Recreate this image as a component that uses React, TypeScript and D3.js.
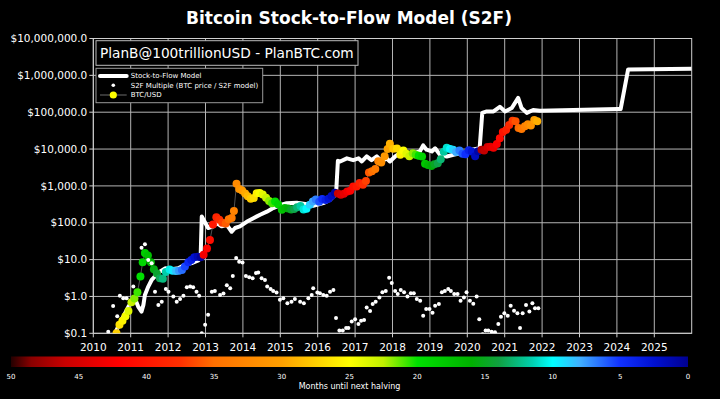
import React from 'react'
import * as d3 from 'd3'

// S2F model price (white line), [year, USD]
const s2fModel: [number, number][] = [
  [2010.50, 0.06], [2010.58, 0.1], [2010.71, 0.19], [2010.83, 0.32], [2010.94, 0.53], [2011.03, 0.72],
  [2011.11, 0.89], [2011.20, 0.53], [2011.29, 0.39], [2011.34, 0.59], [2011.38, 1.1], [2011.47, 1.85],
  [2011.56, 2.8], [2011.65, 3.5], [2011.78, 4.7], [2011.92, 5.8], [2012.10, 5.5], [2012.27, 5.8],
  [2012.45, 7.2], [2012.63, 8.0], [2012.81, 9.5], [2012.87, 12], [2012.90, 148], [2013.07, 72],
  [2013.21, 80], [2013.30, 98], [2013.43, 80], [2013.57, 88], [2013.70, 57], [2013.79, 72],
  [2013.92, 80], [2014.10, 106], [2014.28, 133], [2014.46, 165], [2014.64, 200], [2014.81, 250],
  [2014.99, 300], [2015.17, 340], [2015.44, 350], [2015.71, 320], [2015.88, 290], [2016.15, 340],
  [2016.33, 420], [2016.42, 520], [2016.49, 580], [2016.54, 4800], [2016.60, 4600], [2016.78, 5600],
  [2016.95, 5000], [2017.09, 5600], [2017.18, 4600], [2017.31, 6300], [2017.44, 5000], [2017.58, 6300],
  [2017.71, 4600], [2017.84, 5600], [2017.93, 4600], [2018.07, 6300], [2018.20, 7700], [2018.38, 7000],
  [2018.56, 7700], [2018.73, 8600], [2018.82, 12600], [2018.91, 9600], [2019.05, 8600], [2019.14, 10500],
  [2019.27, 7000], [2019.45, 6300], [2019.63, 7000], [2019.80, 7700], [2019.98, 7700], [2020.12, 9600],
  [2020.33, 10500], [2020.40, 96000], [2020.52, 105000], [2020.70, 105000], [2020.87, 140000],
  [2021.01, 105000], [2021.19, 130000], [2021.36, 245000], [2021.45, 130000], [2021.59, 96000],
  [2021.76, 115000], [2021.94, 110000], [2024.02, 122000], [2024.10, 122000], [2024.30, 1450000],
  [2026.0, 1500000],
]

// S2F multiple (BTC price / S2F model), white dots
const s2fMultiple: [number, number][] = [
  [2010.40, 0.11], [2010.53, 0.55], [2010.64, 0.29], [2010.71, 1.05], [2010.80, 0.89], [2010.89, 0.89],
  [2011.07, 1.85], [2011.29, 21], [2011.38, 26], [2011.47, 9.8], [2011.56, 8], [2011.65, 1.35],
  [2011.74, 0.59], [2011.83, 0.72], [2011.94, 1.6], [2012.01, 1.35], [2012.14, 0.99], [2012.23, 0.72],
  [2012.32, 0.85], [2012.41, 1.05], [2012.50, 1.78], [2012.59, 1.85], [2012.67, 1.78], [2012.76, 1.35],
  [2012.83, 1.05], [2012.90, 0.1], [2012.99, 0.17], [2013.07, 0.32], [2013.17, 1.35], [2013.25, 1.4],
  [2013.39, 1.1], [2013.48, 1.2], [2013.57, 2.0], [2013.66, 1.66], [2013.73, 3.6], [2013.82, 11],
  [2013.90, 8.8], [2013.99, 8.3], [2014.08, 3.6], [2014.17, 3.3], [2014.26, 3.1], [2014.35, 4.3],
  [2014.41, 4.5], [2014.50, 3.1], [2014.59, 2.8], [2014.65, 1.85], [2014.74, 1.6], [2014.81, 1.4],
  [2014.90, 1.27], [2014.99, 0.81], [2015.08, 0.89], [2015.19, 0.65], [2015.30, 0.72], [2015.39, 0.85],
  [2015.53, 0.72], [2015.63, 0.65], [2015.75, 0.89], [2015.84, 1.1], [2015.88, 1.66], [2015.99, 1.27],
  [2016.06, 1.22], [2016.15, 1.1], [2016.24, 1.05], [2016.33, 1.35], [2016.42, 1.5], [2016.49, 0.26],
  [2016.58, 0.12], [2016.67, 0.12], [2016.76, 0.14], [2016.82, 0.14], [2016.91, 0.21], [2017.00, 0.24],
  [2017.09, 0.18], [2017.16, 0.22], [2017.24, 0.23], [2017.31, 0.5], [2017.40, 0.4], [2017.47, 0.62],
  [2017.55, 0.72], [2017.65, 0.93], [2017.73, 1.3], [2017.82, 1.4], [2017.91, 3.2], [2017.98, 2.3],
  [2018.07, 1.4], [2018.14, 1.17], [2018.22, 1.5], [2018.31, 1.3], [2018.40, 1.0], [2018.49, 1.22],
  [2018.57, 1.22], [2018.65, 0.85], [2018.74, 0.77], [2018.82, 0.3], [2018.90, 0.46], [2018.99, 0.46],
  [2019.07, 0.36], [2019.14, 0.56], [2019.24, 0.62], [2019.32, 1.3], [2019.40, 1.4], [2019.49, 1.6],
  [2019.56, 1.4], [2019.65, 1.17], [2019.74, 1.17], [2019.82, 0.77], [2019.91, 0.93], [2019.98, 1.3],
  [2020.07, 0.77], [2020.16, 0.63], [2020.25, 1.0], [2020.32, 0.24], [2020.41, 0.094], [2020.49, 0.12],
  [2020.56, 0.12], [2020.65, 0.11], [2020.74, 0.106], [2020.83, 0.18], [2020.90, 0.28], [2020.99, 0.35],
  [2021.08, 0.3], [2021.16, 0.56], [2021.25, 0.41], [2021.34, 0.35], [2021.41, 0.14], [2021.48, 0.35],
  [2021.57, 0.59], [2021.66, 0.39], [2021.74, 0.65], [2021.81, 0.48], [2021.90, 0.48],
]

// BTC/USD monthly price, [year, USD]
const btcUsd: [number, number][] = [
  [2010.62, 0.10], [2010.70, 0.17], [2010.78, 0.22], [2010.86, 0.29], [2010.94, 0.40], [2011.02, 0.70],
  [2011.10, 0.88], [2011.18, 1.3], [2011.26, 3.5], [2011.32, 8.5], [2011.38, 15], [2011.46, 13],
  [2011.54, 8.5], [2011.62, 5.5], [2011.70, 4.2], [2011.78, 3.1], [2011.86, 3.0], [2011.94, 4.6],
  [2012.04, 5.4], [2012.12, 5.0], [2012.21, 4.9], [2012.29, 5.0], [2012.37, 5.2], [2012.45, 6.5],
  [2012.54, 8.5], [2012.62, 9.8], [2012.70, 11.5], [2012.79, 12.0], [2012.87, 11.5], [2012.95, 13.5],
  [2013.04, 20], [2013.12, 34], [2013.20, 90], [2013.29, 140], [2013.37, 120], [2013.45, 100],
  [2013.54, 95], [2013.62, 125], [2013.70, 135], [2013.76, 210], [2013.83, 1140], [2013.90, 820],
  [2013.98, 750], [2014.06, 620], [2014.13, 520], [2014.21, 450], [2014.29, 470], [2014.37, 630],
  [2014.45, 640], [2014.53, 580], [2014.62, 480], [2014.70, 390], [2014.78, 340], [2014.86, 375],
  [2014.94, 320], [2015.04, 225], [2015.12, 250], [2015.21, 245], [2015.29, 230], [2015.37, 235],
  [2015.45, 265], [2015.54, 285], [2015.62, 230], [2015.70, 240], [2015.79, 310], [2015.87, 380],
  [2015.95, 430], [2016.04, 370], [2016.12, 440], [2016.21, 415], [2016.29, 450], [2016.37, 530],
  [2016.46, 650], [2016.54, 620], [2016.62, 575], [2016.70, 610], [2016.79, 700], [2016.87, 740],
  [2016.95, 960], [2017.04, 970], [2017.12, 1190], [2017.21, 1080], [2017.29, 1350], [2017.37, 2300],
  [2017.45, 2500], [2017.54, 2880], [2017.62, 4700], [2017.70, 4340], [2017.79, 6400], [2017.87, 10000],
  [2017.93, 14000], [2018.02, 10200], [2018.12, 10300], [2018.21, 7000], [2018.29, 9200], [2018.37, 7500],
  [2018.45, 6400], [2018.54, 7700], [2018.62, 7000], [2018.70, 6600], [2018.79, 6300], [2018.87, 4000],
  [2018.95, 3700], [2019.04, 3450], [2019.12, 3850], [2019.21, 4100], [2019.29, 5300], [2019.37, 8500],
  [2019.45, 10800], [2019.54, 10000], [2019.62, 9600], [2019.70, 8300], [2019.79, 9200], [2019.87, 7500],
  [2019.95, 7200], [2020.04, 9300], [2020.12, 8600], [2020.21, 6400], [2020.29, 8700], [2020.38, 9500],
  [2020.45, 9100], [2020.54, 11300], [2020.62, 11600], [2020.70, 10800], [2020.79, 13800], [2020.87, 19700],
  [2020.95, 29000], [2021.04, 33000], [2021.12, 45000], [2021.21, 59000], [2021.29, 57000], [2021.37, 37000],
  [2021.45, 35000], [2021.54, 41500], [2021.62, 47000], [2021.70, 43800], [2021.79, 61000], [2021.87, 57000],
]

const halvings = [2012.91, 2016.52, 2020.36, 2024.30]
const years = d3.range(2010, 2026)
const priceTicks = [0.1, 1, 10, 100, 1e3, 1e4, 1e5, 1e6, 1e7]
const monthTicks = [50, 45, 40, 35, 30, 25, 20, 15, 10, 5, 0]

// colour bar stops (months until next halving)
const stopMonths = [50, 48.5, 46, 42, 37.5, 35, 30, 25, 22.5, 20, 16, 14, 11.5, 10, 8, 5, 2.5, 0]
const stopColors = ['#240000', '#8a0000', '#c80000', '#ff0000', '#ff3000', '#ff7000', '#ffa000', '#ffff00',
  '#c0f000', '#00e000', '#00b000', '#10a040', '#00d0b0', '#00ffff', '#40b0ff', '#1030ff', '#0010d0', '#000090']

const FONT = 'DejaVu Sans'

export default function App() {
  const x = d3.scaleLinear().domain([2010, 2026]).range([93.3, 691.7])
  const y = d3.scaleLog().domain([0.1, 1e7]).range([333.3, 38.5])
  const color = d3.scaleLinear<string>().domain(stopMonths).range(stopColors).clamp(true)
  const cb = d3.scaleLinear().domain([50, 0]).range([11, 688])

  const monthsToHalving = (t: number) => {
    const next = halvings.find(h => h > t) ?? halvings[halvings.length - 1]
    return Math.max(0, (next - t) * 12)
  }

  const line = d3.line<[number, number]>().x(d => x(d[0])).y(d => y(d[1]))
  const fmt = d3.format(',.1f')
  const [x0, x1] = x.range()
  const [yb, yt] = y.range()

  return (
    <svg width={720} height={399} style={{position: 'absolute', left: 0, top: 0, background: '#000'}}
         fontFamily={FONT}>
      <defs>
        <clipPath id="plot"><rect x={x0} y={yt} width={x1 - x0} height={yb - yt} /></clipPath>
        <linearGradient id="cbar" x1="0" x2="1" y1="0" y2="0">
          {stopMonths.map((m, i) => (
            <stop key={i} offset={(50 - m) / 50} stopColor={stopColors[i]} />
          ))}
        </linearGradient>
      </defs>
      <rect width={720} height={399} fill="#000" />

      <text x={349} y={23.5} fill="#fff" fontSize={17} fontWeight="bold" textAnchor="middle">
        Bitcoin Stock-to-Flow Model (S2F)
      </text>

      {/* grid */}
      <g stroke="#b4b4b4" strokeWidth={1}>
        {years.map(yr => <line key={yr} x1={x(yr)} x2={x(yr)} y1={yt} y2={yb} />)}
        {priceTicks.map(p => <line key={p} x1={x0} x2={x1} y1={y(p)} y2={y(p)} />)}
      </g>
      <rect x={x0} y={yt} width={x1 - x0} height={yb - yt} fill="none" stroke="#d0d0d0" strokeWidth={1} />

      {/* axes */}
      <g fill="#fff" fontSize={10.5}>
        {priceTicks.map(p => (
          <g key={p}>
            <line x1={x0 - 4} x2={x0} y1={y(p)} y2={y(p)} stroke="#d0d0d0" />
            <text x={x0 - 6} y={y(p)} dy="0.35em" textAnchor="end">${fmt(p)}</text>
          </g>
        ))}
        {years.map(yr => (
          <g key={yr}>
            <line x1={x(yr)} x2={x(yr)} y1={yb} y2={yb + 4} stroke="#d0d0d0" />
            <text x={x(yr)} y={yb + 17.5} textAnchor="middle">{yr}</text>
          </g>
        ))}
      </g>

      <g clipPath="url(#plot)">
        <path d={line(s2fModel) ?? ''} fill="none" stroke="#fff" strokeWidth={4} strokeLinejoin="round" />
        <path d={line(btcUsd) ?? ''} fill="none" stroke="#666" strokeWidth={0.8} />
        {btcUsd.map((d, i) => (
          <circle key={i} cx={x(d[0])} cy={y(d[1])} r={4} fill={color(monthsToHalving(d[0]))} />
        ))}
        {s2fMultiple.map((d, i) => (
          <circle key={i} cx={x(d[0])} cy={y(d[1])} r={2} fill="#fff" />
        ))}
      </g>

      {/* watermark box */}
      <rect x={96} y={40.7} width={262} height={24.6} fill="#000" stroke="#bbb" strokeWidth={1} />
      <text x={100} y={58.3} fill="#fff" fontSize={13.7}>PlanB@100trillionUSD - PlanBTC.com</text>

      {/* legend */}
      <rect x={96} y={68.3} width={166.7} height={34.4} fill="#000" stroke="#999" strokeWidth={1} />
      <g fontSize={7} fill="#fff">
        <line x1={100} x2={126.7} y1={76} y2={76} stroke="#fff" strokeWidth={4} strokeLinecap="round" />
        <text x={130.7} y={76} dy="0.35em">Stock-to-Flow Model</text>
        <circle cx={113.3} cy={85.3} r={1.8} fill="#fff" />
        <text x={130.7} y={85.3} dy="0.35em">S2F Multiple (BTC price / S2F model)</text>
        <line x1={100} x2={126.7} y1={95} y2={95} stroke="#888" strokeWidth={0.8} />
        <circle cx={113.3} cy={95} r={3.6} fill="#ffff00" />
        <text x={130.7} y={95} dy="0.35em">BTC/USD</text>
      </g>

      {/* colour bar */}
      <rect x={cb(50)} y={356.5} width={cb(0) - cb(50)} height={10.5} fill="url(#cbar)" />
      <g fill="#fff" fontSize={7} textAnchor="middle">
        {monthTicks.map(m => <text key={m} x={cb(m)} y={377} dy="0.35em">{m}</text>)}
        <text x={349.5} y={386.5} dy="0.35em" fontSize={8}>Months until next halving</text>
      </g>
    </svg>
  )
}
